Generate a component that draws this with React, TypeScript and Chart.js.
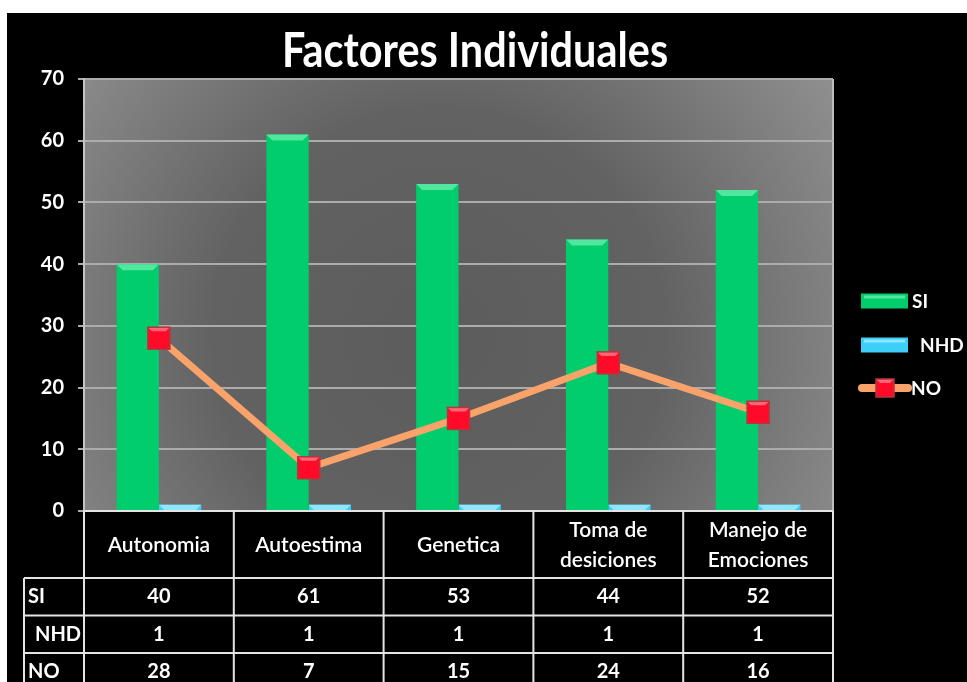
import React, { useEffect, useRef } from "react";
import { Chart, registerables } from "chart.js";

Chart.register(...registerables);

const titleText = "Factores Individuales";
const categories: string[][] = [
  ["Autonomia"],
  ["Autoestima"],
  ["Genetica"],
  ["Toma de", "desiciones"],
  ["Manejo de", "Emociones"],
];
const siValues = [40, 61, 53, 44, 52];
const nhdValues = [1, 1, 1, 1, 1];
const noValues = [28, 7, 15, 24, 16];
const seriesNames = ["SI", "NHD", "NO"];
const yMin = 0;
const yMax = 70;
const yStep = 10;

const GREEN = "#02cd6c";
const GREEN_LIGHT = "#52e69e";
const CYAN = "#3ccff8";
const CYAN_LIGHT = "#8fe6ff";
const ORANGE = "#f9a36b";
const RED = "#ff0a28";
const RED_BORDER = "#b8343e";
const FONT = "Lato, 'Open Sans', sans-serif";

function drawMarker(ctx: CanvasRenderingContext2D, x: number, y: number, side: number) {
  ctx.save();
  ctx.fillStyle = RED;
  ctx.fillRect(x - side / 2, y - side / 2, side, side);
  ctx.fillStyle = "rgba(255,140,150,0.7)";
  ctx.beginPath();
  ctx.moveTo(x - side / 2, y - side / 2);
  ctx.lineTo(x + side / 2, y - side / 2);
  ctx.lineTo(x + side / 2 - 4, y - side / 2 + 4);
  ctx.lineTo(x - side / 2 + 4, y - side / 2 + 4);
  ctx.closePath();
  ctx.fill();
  ctx.strokeStyle = RED_BORDER;
  ctx.lineWidth = 1.5;
  ctx.strokeRect(x - side / 2, y - side / 2, side, side);
  ctx.restore();
}

const backgroundPlugin = {
  id: "plotBackground",
  beforeDraw(chart: any) {
    const { ctx, chartArea } = chart;
    const { left, top, right, bottom } = chartArea;
    const cx = (left + right) / 2 - 20;
    const cy = (top + bottom) / 2 + 40;
    const g = ctx.createRadialGradient(cx, cy, 0, cx, cy, 500);
    g.addColorStop(0, "#5c5c5c");
    g.addColorStop(0.45, "#626262");
    g.addColorStop(1, "#959595");
    ctx.save();
    ctx.fillStyle = g;
    ctx.fillRect(left, top, right - left, bottom - top);
    ctx.strokeStyle = "#bdbdbd";
    ctx.lineWidth = 2;
    ctx.beginPath();
    ctx.moveTo(right, top);
    ctx.lineTo(right, bottom);
    ctx.stroke();
    ctx.restore();
  },
};

const barBevelPlugin = {
  id: "barBevel",
  afterDatasetDraw(chart: any, args: any) {
    const meta = args.meta;
    if (meta.type !== "bar") return;
    const ctx = chart.ctx;
    const light = meta.index === 0 ? GREEN_LIGHT : CYAN_LIGHT;
    ctx.save();
    meta.data.forEach((el: any) => {
      const { x, y, width } = el.getProps(["x", "y", "width"], true);
      const h = 6;
      ctx.fillStyle = light;
      ctx.beginPath();
      ctx.moveTo(x - width / 2, y);
      ctx.lineTo(x + width / 2, y);
      ctx.lineTo(x + width / 2 - h, y + h);
      ctx.lineTo(x - width / 2 + h, y + h);
      ctx.closePath();
      ctx.fill();
    });
    ctx.restore();
  },
};

const markerPlugin = {
  id: "markers",
  afterDatasetDraw(chart: any, args: any) {
    const meta = args.meta;
    if (meta.type !== "line") return;
    meta.data.forEach((el: any) => {
      const { x, y } = el.getProps(["x", "y"], true);
      drawMarker(chart.ctx, x, y, 22);
    });
  },
};

const decorPlugin = {
  id: "decor",
  afterDraw(chart: any) {
    const { ctx, chartArea, height } = chart;
    const { left, right, bottom } = chartArea;
    ctx.save();

    // Title
    ctx.fillStyle = "#ffffff";
    ctx.font = `bold 38px ${FONT}`;
    ctx.textAlign = "center";
    ctx.textBaseline = "alphabetic";
    ctx.save();
    ctx.translate(468, 54);
    ctx.scale(1.09, 1.25);
    ctx.fillText(titleText, 0, 0);
    ctx.restore();

    // Data table
    const colW = (right - left) / categories.length;
    const headerBottom = bottom + 67;
    const rowH = 37.5;
    const labelLeft = 17;
    ctx.strokeStyle = "#e4e4e4";
    ctx.lineWidth = 2;
    ctx.beginPath();
    ctx.moveTo(left, bottom);
    ctx.lineTo(right, bottom);
    for (let i = 0; i <= categories.length; i++) {
      const x = left + i * colW;
      ctx.moveTo(x, bottom);
      ctx.lineTo(x, height);
    }
    for (let r = 0; r < 3; r++) {
      const y = headerBottom + r * rowH;
      ctx.moveTo(labelLeft, y);
      ctx.lineTo(right, y);
    }
    ctx.moveTo(labelLeft, headerBottom);
    ctx.lineTo(labelLeft, height);
    ctx.stroke();

    ctx.fillStyle = "#ffffff";
    ctx.textAlign = "center";
    ctx.textBaseline = "middle";
    ctx.font = `600 21px ${FONT}`;
    const headerMid = (bottom + headerBottom) / 2 + 1;
    categories.forEach((lines, i) => {
      const cx = left + (i + 0.5) * colW;
      const lh = 30;
      lines.forEach((ln, j) => {
        const y = headerMid + (j - (lines.length - 1) / 2) * lh;
        ctx.fillText(ln, cx, y);
      });
    });

    const rows = [siValues, nhdValues, noValues];
    ctx.font = `bold 20px ${FONT}`;
    rows.forEach((vals, r) => {
      const cy = headerBottom + (r + 0.5) * rowH;
      vals.forEach((v, i) => {
        ctx.textAlign = "center";
        ctx.fillText(String(v), left + (i + 0.5) * colW, cy);
      });
      ctx.textAlign = "left";
      ctx.fillText(seriesNames[r], r === 1 ? 28 : 21, cy);
    });

    // Legend
    ctx.font = `bold 19px ${FONT}`;
    ctx.textAlign = "left";
    ctx.textBaseline = "middle";
    const legendX = 854;
    const swW = 47;
    const swH = 15;
    const items = [
      { y: 288, color: GREEN, light: GREEN_LIGHT, textX: 905 },
      { y: 332, color: CYAN, light: CYAN_LIGHT, textX: 913 },
    ];
    items.forEach((it, i) => {
      ctx.fillStyle = it.color;
      ctx.fillRect(legendX, it.y - swH / 2, swW, swH);
      ctx.fillStyle = it.light;
      ctx.fillRect(legendX + 3, it.y - swH / 2 + 2, swW - 6, 3);
      ctx.fillStyle = "#ffffff";
      ctx.fillText(seriesNames[i], it.textX, it.y + 1);
    });
    const noY = 375;
    ctx.strokeStyle = ORANGE;
    ctx.lineWidth = 8;
    ctx.lineCap = "round";
    ctx.beginPath();
    ctx.moveTo(855, noY);
    ctx.lineTo(901, noY);
    ctx.stroke();
    drawMarker(ctx, 878, noY, 18);
    ctx.fillStyle = "#ffffff";
    ctx.fillText(seriesNames[2], 904, noY + 1);

    ctx.restore();
  },
};

export default function App() {
  const canvasRef = useRef<HTMLCanvasElement | null>(null);

  useEffect(() => {
    let chart: Chart | null = null;
    let cancelled = false;
    const make = () => {
      if (cancelled || !canvasRef.current) return;
      chart = new Chart(canvasRef.current, {
        type: "bar",
        data: {
          labels: categories,
          datasets: [
            {
              type: "bar",
              label: seriesNames[0],
              data: siValues,
              backgroundColor: GREEN,
              borderWidth: 0,
              order: 1,
              categoryPercentage: 0.565,
              barPercentage: 1,
            },
            {
              type: "bar",
              label: seriesNames[1],
              data: nhdValues,
              backgroundColor: CYAN,
              borderWidth: 0,
              order: 1,
              categoryPercentage: 0.565,
              barPercentage: 1,
            },
            {
              type: "line",
              label: seriesNames[2],
              data: noValues,
              borderColor: ORANGE,
              borderWidth: 7,
              pointRadius: 0,
              pointHoverRadius: 0,
              tension: 0,
              order: 0,
            },
          ],
        } as any,
        options: {
          animation: false,
          responsive: true,
          maintainAspectRatio: false,
          events: [],
          layout: { padding: { top: 66, right: 134, bottom: 171, left: 0 } },
          plugins: {
            legend: { display: false },
            title: { display: false },
            tooltip: { enabled: false },
          },
          scales: {
            x: { display: false },
            y: {
              min: yMin,
              max: yMax,
              ticks: {
                stepSize: yStep,
                color: "#ffffff",
                padding: 14,
                font: { family: FONT, weight: "bold", size: 20 },
              },
              grid: { color: "#acacac", lineWidth: 2, tickLength: 6, drawTicks: true },
              border: { display: true, color: "#c4c4c4", width: 2 },
              afterFit(scale: any) {
                scale.width = 77;
              },
            },
          },
        } as any,
        plugins: [backgroundPlugin, barBevelPlugin, markerPlugin, decorPlugin],
      });
    };
    const fontsApi = (document as any).fonts;
    if (fontsApi && fontsApi.load) {
      Promise.all([
        fontsApi.load(`bold 19px Lato`),
        fontsApi.load(`600 21px Lato`),
        fontsApi.load(`21px Lato`),
      ]).then(make, make);
    } else {
      make();
    }
    return () => {
      cancelled = true;
      if (chart) chart.destroy();
    };
  }, []);

  return (
    <div
      style={{
        position: "fixed",
        left: 0,
        top: 0,
        width: 967,
        height: 682,
        background: "#ffffff",
        overflow: "hidden",
      }}
    >
      <div
        style={{
          position: "absolute",
          left: 7,
          top: 13,
          width: 960,
          height: 669,
          background: "#000000",
        }}
      >
        <canvas ref={canvasRef} />
      </div>
    </div>
  );
}
